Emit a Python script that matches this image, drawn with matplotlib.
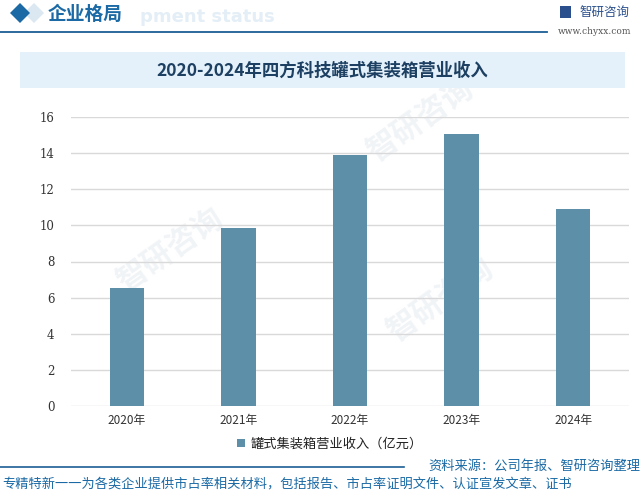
import matplotlib
matplotlib.use("Agg")
import matplotlib.pyplot as plt
from matplotlib.patches import Rectangle, Polygon

plt.rcParams['font.family'] = ['Noto Sans CJK SC', 'DejaVu Sans']

years = ["2020年", "2021年", "2022年", "2023年", "2024年"]
revenue = [6.55, 9.85, 13.9, 15.05, 10.9]
yticks = [0, 2, 4, 6, 8, 10, 12, 14, 16]
series_name = "罐式集装箱营业收入（亿元）"
title = "2020-2024年四方科技罐式集装箱营业收入"
header = "企业格局"
source = "资料来源：公司年报、智研咨询整理"
footer = "专精特新一一为各类企业提供市占率相关材料，包括报告、市占率证明文件、认证宣发文章、证书"

W, H = 642, 493
fig = plt.figure(figsize=(W / 100, H / 100), dpi=100)
fig.patch.set_facecolor("white")

def fx(x):
    return x / W

def fy(y):
    return 1 - y / H

# faint watermarks (behind the chart)
for (x, y) in [(170, 250), (420, 120), (440, 300)]:
    fig.text(fx(x), fy(y), "智研咨询", fontsize=22, color="#f1f4f7", rotation=35,
             ha="center", va="center", zorder=-5, fontweight="bold")

# header
fig.text(fx(140), fy(17), "pment status", fontsize=13, color="#e4eef6",
         fontweight="bold", ha="left", va="center", family="DejaVu Sans", zorder=1)
fig.patches.append(Polygon([(fx(10), fy(13)), (fx(20), fy(3)), (fx(30), fy(13)), (fx(20), fy(23))],
                           closed=True, transform=fig.transFigure, facecolor="#1b6aa5",
                           edgecolor="none", zorder=2))
fig.patches.append(Polygon([(fx(24), fy(13)), (fx(34), fy(3)), (fx(44), fy(13)), (fx(34), fy(23))],
                           closed=True, transform=fig.transFigure, facecolor="#dbe8f2",
                           edgecolor="none", zorder=1))
fig.text(fx(48), fy(14), header, fontsize=13.5, color="#1b6aa5", fontweight="bold",
         ha="left", va="center", zorder=3)
fig.add_artist(plt.Line2D([0, fx(547)], [fy(32), fy(32)], color="#1b5e94", lw=1.3,
                          transform=fig.transFigure))

# logo
fig.patches.append(Rectangle((fx(560), fy(18)), fx(11), 12 / H, transform=fig.transFigure,
                             facecolor="#2a4f8c", edgecolor="none"))
fig.text(fx(579), fy(12), "智研咨询", fontsize=9, color="#2a4f8c", ha="left", va="center")
fig.text(fx(595), fy(31), "www.chyxx.com", fontsize=6.5, color="#555555", ha="center",
         va="center", family="DejaVu Serif")

# title box
fig.patches.append(Rectangle((fx(20), fy(88)), fx(605), 36 / H, transform=fig.transFigure,
                             facecolor="#e5f1fa", edgecolor="none", zorder=1))
fig.text(fx(322), fy(71), title, fontsize=12.5, color="#1c3f62", fontweight="bold",
         ha="center", va="center", zorder=2)

# axes
ax = fig.add_axes([fx(71), fy(406), fx(629) - fx(71), (406 - 117) / H])
ax.set_facecolor("none")
x = list(range(len(years)))
bars = ax.bar(x, revenue, width=0.31, color="#5d90a8", label=series_name, zorder=3)
ax.set_ylim(0, 16)
ax.set_xlim(-0.5, len(years) - 0.5)
ax.set_yticks(yticks)
ax.set_yticklabels([str(t) for t in yticks], fontsize=8.5, color="#333333",
                   family="DejaVu Serif")
ax.set_xticks(x)
ax.set_xticklabels(years, fontsize=8.5, color="#333333")
ax.yaxis.grid(True, color="#d9d9d9", lw=1, zorder=0)
ax.set_axisbelow(True)
for s in ax.spines.values():
    s.set_visible(False)
ax.tick_params(axis="both", length=0)
ax.tick_params(axis="y", pad=12)
ax.tick_params(axis="x", pad=6)

leg = fig.legend(handles=[bars], labels=[series_name], loc="center",
                 bbox_to_anchor=(fx(330), fy(444)), frameon=False, fontsize=9.5,
                 handlelength=0.6, handleheight=0.6, handletextpad=0.4)
for t in leg.get_texts():
    t.set_color("#222222")

# footer
fig.text(fx(640), fy(466), source, fontsize=9.5, color="#1b6aa5", ha="right", va="center")
fig.add_artist(plt.Line2D([0, fx(404)], [fy(467), fy(467)], color="#1b5e94", lw=1.2,
                          transform=fig.transFigure))
fig.text(fx(2), fy(484), footer, fontsize=9.5, color="#1b6aa5", ha="left", va="center")

fig.savefig("out.png", dpi=100, facecolor="white")
